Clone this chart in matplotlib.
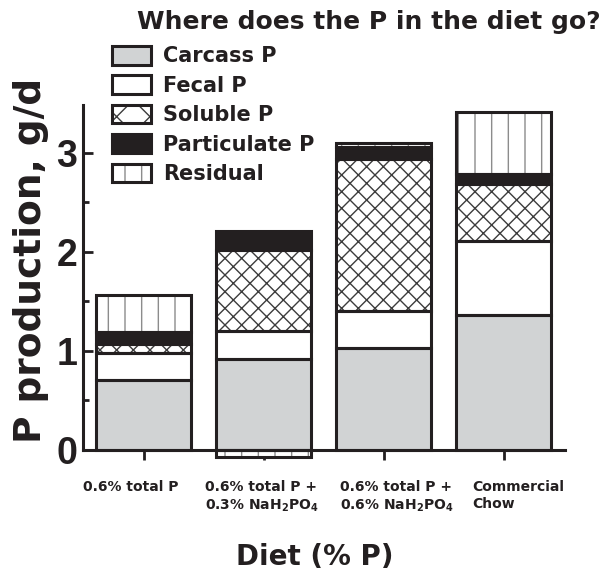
import numpy as np
import matplotlib
matplotlib.use('Agg')
import matplotlib.pyplot as plt
from matplotlib.patches import Patch
from matplotlib.transforms import blended_transform_factory

plt.rcParams['font.family'] = 'DejaVu Sans'
plt.rcParams['font.weight'] = 'bold'
plt.rcParams['mathtext.fontset'] = 'custom'
plt.rcParams['mathtext.rm'] = 'DejaVu Sans:bold'
plt.rcParams['mathtext.it'] = 'DejaVu Sans:bold'
plt.rcParams['mathtext.bf'] = 'DejaVu Sans:bold'
plt.rcParams['hatch.linewidth'] = 1.0

INK = '#231f20'

diets = ['0.6% total P',
         '0.6% total P +\n0.3% NaH$_2$PO$_4$',
         '0.6% total P +\n0.6% NaH$_2$PO$_4$',
         'Commercial\nChow']
components = ['Carcass P', 'Fecal P', 'Soluble P', 'Particulate P', 'Residual']

# g/d
carcass = [0.71, 0.92, 1.03, 1.36]
fecal = [0.265, 0.28, 0.37, 0.75]
soluble = [0.095, 0.82, 1.54, 0.57]
particulate = [0.12, 0.19, 0.12, 0.10]
residual = [0.37, -0.07, 0.04, 0.63]

series = [carcass, fecal, soluble, particulate, residual]
faces = ['#d1d3d4', 'white', 'white', INK, 'white']
hatches = [None, None, 'xx', None, '|']
hatch_cols = ['none', 'none', '#3c3c3c', 'none', '#8c8c8c']

fig = plt.figure(figsize=(6.08, 5.71), dpi=100)
ax = fig.add_axes([83/608, 1 - 450/571, (565 - 83)/608, (450 - 105)/571])

x = np.arange(len(diets))
width = 0.79
pos_base = np.zeros(len(diets))
neg_base = np.zeros(len(diets))
for vals, fc, h, hc in zip(series, faces, hatches, hatch_cols):
    vals = np.array(vals)
    bottom = np.where(vals >= 0, pos_base, neg_base)
    ax.bar(x, vals, width, bottom=bottom, color=fc, edgecolor=hc, hatch=h,
           linewidth=0, clip_on=False, zorder=2)
    ax.bar(x, vals, width, bottom=bottom, fill=False, edgecolor=INK,
           linewidth=2.2, clip_on=False, zorder=3)
    pos_base += np.where(vals >= 0, vals, 0)
    neg_base += np.where(vals < 0, vals, 0)

ax.set_xlim(-0.504, 3.51)
ax.set_ylim(0, 3.48)
for s in ['top', 'right']:
    ax.spines[s].set_visible(False)
for s in ['left', 'bottom']:
    ax.spines[s].set_linewidth(2.2)
    ax.spines[s].set_color(INK)
    ax.spines[s].set_zorder(4)

ax.set_yticks([0, 1, 2, 3])
ax.set_yticks([0.5, 1.5, 2.5], minor=True)
ax.tick_params(axis='y', which='major', direction='in', length=7, width=2,
               color=INK, pad=4)
ax.tick_params(axis='y', which='minor', direction='in', length=4.5, width=2,
               color=INK)
ax.set_yticklabels(['0', '1', '2', '3'], fontsize=27, color=INK,
                   family='Liberation Sans')
ax.set_xticks(x)
ax.set_xticklabels([])
ax.tick_params(axis='x', direction='out', length=7.5, width=2, color=INK)

# tick labels are left-aligned with uneven offsets in the original
offsets = [-60, -59, -44, -31]
tr = blended_transform_factory(ax.transData, fig.transFigure)
for xi, lab, off in zip(x, diets, offsets):
    ax.text(xi + off/120, 1 - 480/571, lab, transform=tr, ha='left', va='top',
            fontsize=10, color=INK, linespacing=1.3)

fig.text(315/608, 1 - 557/571, 'Diet (% P)', ha='center', va='center',
         fontsize=20, color=INK)
fig.text(31/608, 1 - 260/571, 'P production, g/d', rotation=90,
         ha='center', va='center', fontsize=27, color=INK)
fig.text(369/608, 1 - 22/571, 'Where does the P in the diet go?',
         ha='center', va='center', fontsize=18, color=INK)

handles = []
for fc, h, hc in zip(faces, hatches, hatch_cols):
    h = 'x' if h == 'xx' else h
    handles.append((Patch(facecolor=fc, edgecolor=hc, hatch=h, linewidth=0),
                    Patch(fill=False, edgecolor=INK, linewidth=2.2)))
fig.legend(handles, components, loc='upper left',
           bbox_to_anchor=(112/608, 1 - 46/571), frameon=False, borderpad=0,
           borderaxespad=0, handlelength=1.85, handleheight=1.0,
           labelspacing=0.43, handletextpad=0.6,
           prop=dict(size=15, weight='bold'), labelcolor=INK)

fig.savefig('out.png', dpi=100)
